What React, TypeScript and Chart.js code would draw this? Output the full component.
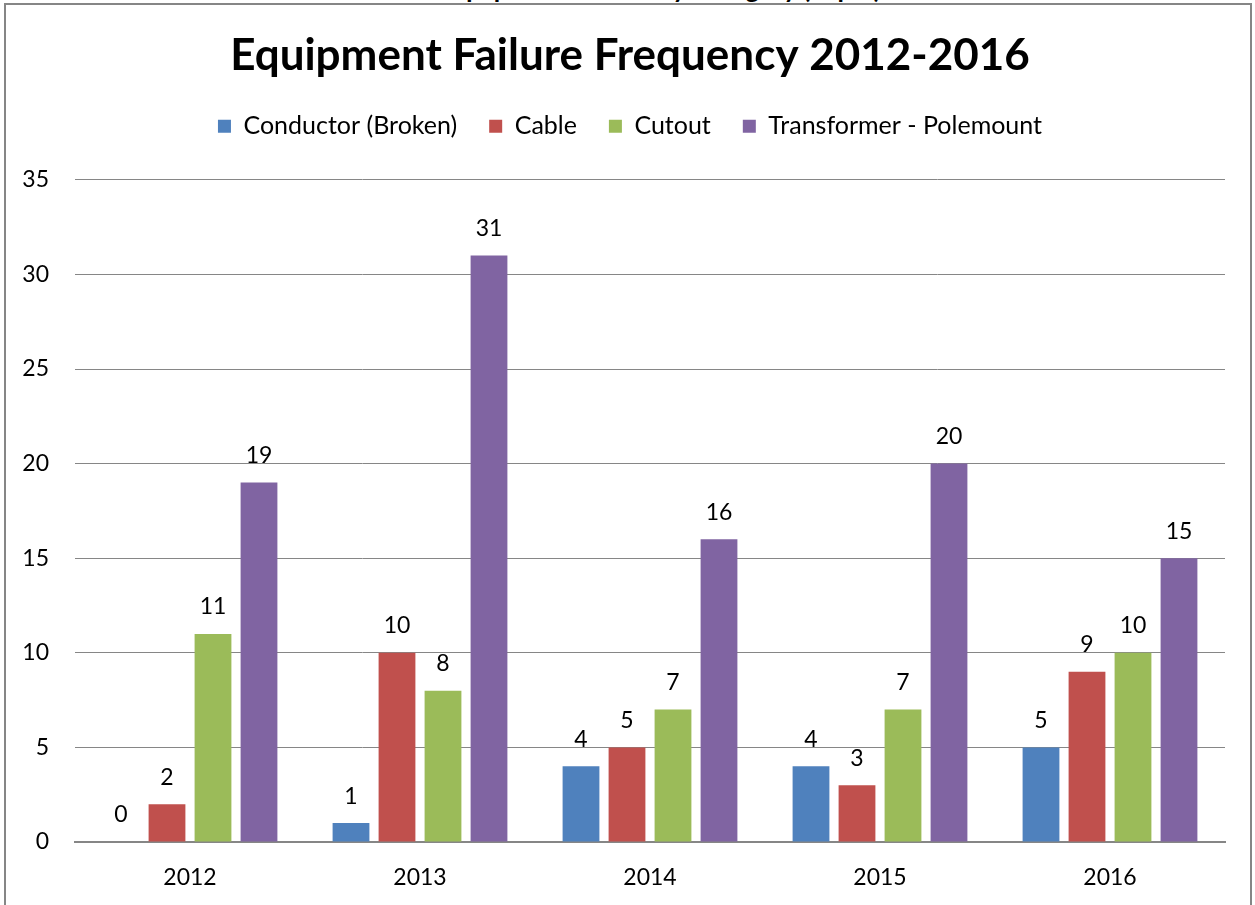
import React, { useEffect, useRef } from "react";
import { Chart, registerables } from "chart.js";

Chart.register(...registerables);

const categories = ["2012", "2013", "2014", "2015", "2016"];
const seriesNames = ["Conductor (Broken)", "Cable", "Cutout", "Transformer - Polemount"];
const conductor = [0, 1, 4, 4, 5];
const cable = [2, 10, 5, 3, 9];
const cutout = [11, 8, 7, 7, 10];
const transformer = [19, 31, 16, 20, 15];
const seriesColors = ["#4F81BD", "#C0504D", "#9BBB59", "#8064A2"];
const yMin = 0;
const yMax = 35;
const yStep = 5;
const chartTitle = "Equipment Failure Frequency 2012-2016";
const clippedHeading = "Equipment Failure by Category (Top 4)";

const FONT = "Lato, 'Open Sans', sans-serif";
const GRID = "#868686";
const CANVAS_W = 1260;
const CANVAS_H = 905;

const valueLabels = {
  id: "valueLabels",
  afterDatasetsDraw(chart: any) {
    const ctx = chart.ctx;
    ctx.save();
    ctx.font = `23px ${FONT}`;
    ctx.fillStyle = "#000";
    ctx.textAlign = "center";
    ctx.textBaseline = "middle";
    chart.data.datasets.forEach((ds: any, i: number) => {
      const meta = chart.getDatasetMeta(i);
      meta.data.forEach((bar: any, j: number) => {
        ctx.fillText(String(ds.data[j]), bar.x, bar.y - 27);
      });
    });
    ctx.restore();
  },
};

export default function App() {
  const canvasRef = useRef<HTMLCanvasElement | null>(null);

  useEffect(() => {
    if (!canvasRef.current) return;
    const values = [conductor, cable, cutout, transformer];
    const chart = new Chart(canvasRef.current, {
      type: "bar",
      data: {
        labels: categories,
        datasets: seriesNames.map((name, i) => ({
          label: name,
          data: values[i],
          backgroundColor: seriesColors[i],
          borderWidth: 0,
          categoryPercentage: 0.8,
          barPercentage: 0.8,
        })),
      },
      options: {
        responsive: false,
        animation: false,
        devicePixelRatio: 1,
        layout: { padding: 0 },
        plugins: {
          title: {
            display: true,
            text: chartTitle,
            color: "#000",
            font: { family: FONT, size: 44, weight: "bold", lineHeight: 1.2 },
            padding: { top: 29, bottom: 0 },
          },
          legend: {
            display: true,
            position: "top",
            labels: {
              color: "#000",
              font: { family: FONT, size: 25 },
              boxWidth: 13,
              boxHeight: 13,
              padding: 32,
            },
          },
          tooltip: { enabled: false },
        },
        scales: {
          x: {
            grid: { display: false, drawTicks: false },
            border: { display: true, color: GRID, width: 2 },
            ticks: { color: "#000", font: { family: FONT, size: 23 }, padding: 22 },
            afterFit: (s: any) => {
              s.height = 63;
            },
          },
          xTop: {
            type: "category",
            position: "top",
            display: true,
            grid: { display: false, drawTicks: false },
            border: { display: false },
            ticks: { display: false },
            afterFit: (s: any) => {
              s.height = 31;
            },
          },
          y: {
            min: yMin,
            max: yMax,
            grid: { color: GRID, lineWidth: 1, drawTicks: false },
            border: { display: false },
            ticks: {
              stepSize: yStep,
              color: "#000",
              font: { family: FONT, size: 23 },
              padding: 26,
            },
            afterFit: (s: any) => {
              s.width = 75;
            },
          },
          yRight: {
            type: "linear",
            position: "right",
            display: true,
            grid: { display: false, drawTicks: false },
            border: { display: false },
            ticks: { display: false },
            afterFit: (s: any) => {
              s.width = 35;
            },
          },
        },
      },
      plugins: [valueLabels],
    } as any);
    return () => chart.destroy();
  }, []);

  return (
    <div
      style={{
        position: "fixed",
        left: 0,
        top: 0,
        width: 1255,
        height: 905,
        overflow: "hidden",
        background: "#fff",
      }}
    >
      <div
        style={{
          position: "absolute",
          left: 0,
          top: -25,
          width: 1324,
          textAlign: "center",
          fontFamily: FONT,
          fontWeight: "bold",
          fontSize: 26,
          lineHeight: "26px",
          color: "#000",
          whiteSpace: "nowrap",
        }}
      >
        {clippedHeading}
      </div>
      <div
        style={{
          position: "absolute",
          left: 4,
          top: 3,
          width: 1248,
          height: 1000,
          boxSizing: "border-box",
          border: `2px solid ${GRID}`,
          background: "#fff",
        }}
      />
      <canvas
        ref={canvasRef}
        width={CANVAS_W}
        height={CANVAS_H}
        style={{ position: "absolute", left: 0, top: 0, width: CANVAS_W, height: CANVAS_H }}
      />
    </div>
  );
}
